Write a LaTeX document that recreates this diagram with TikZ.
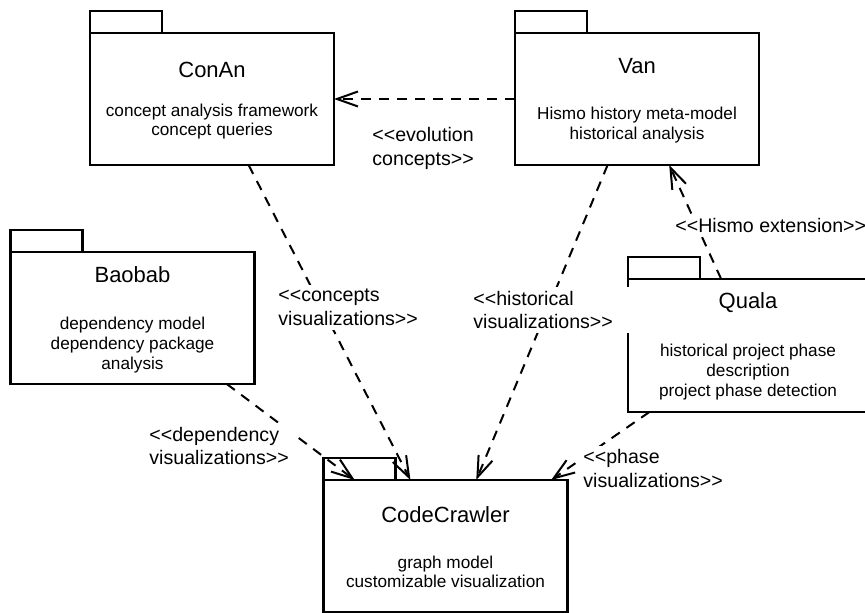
\documentclass[tikz,border=0pt]{standalone}
\usepackage{fontspec}
\setmainfont{Liberation Sans}
\usetikzlibrary{arrows.meta, positioning}

% stereotype brackets, kept apart so they do not merge into guillemets
\newcommand{\stopen}{\textless\kern0pt\textless}
\newcommand{\stclose}{\textgreater\kern0pt\textgreater}

\begin{document}
\begin{tikzpicture}[x=0.5pt, y=-0.5pt,
    pkg/.style={draw, line width=1.2pt, minimum width=122pt, minimum height=66pt,
                inner sep=0pt, outer sep=0pt},
    pkgtab/.style={draw, line width=1.2pt},
    pkgtitle/.style={font=\fontsize{11}{13}\selectfont},
    pkgdesc/.style={font=\fontsize{8.6}{9.8}\selectfont, align=center},
    lbl/.style={font=\fontsize{9.8}{11.75}\selectfont, align=left, anchor=west,
                fill=white, inner sep=2pt},
    dep/.style={line width=1pt, dash pattern=on 5pt off 4pt,
                -{Straight Barb[length=10.5pt, width=7.5pt]}}]
    % canvas
    \useasboundingbox (0,0) rectangle (865,613);
    \clip (0,0) rectangle (865,613);

    % Package bodies
    \node[pkg] (conan) at (212,99) {};
    \node[pkg] (van) at (637,99) {};
    \node[pkg] (baobab) at (132.5,318) {};
    \node[pkg, minimum width=120pt, minimum height=66.5pt] (quala) at (748,345.5) {};
    \node[pkg] (crawler) at (445.5,546) {};

    % Package tabs
    \foreach \p in {conan, van, baobab, quala, crawler}
        \draw[pkgtab] (\p.north west) rectangle ++(72,-22);

    % Package names and contents
    \node[pkgtitle] (conan-t) at (212,70) {ConAn};
    \node[pkgdesc] (conan-d) at (212,121.5) {concept analysis framework\\concept queries};
    \node[pkgtitle] (van-t) at (637,66) {Van};
    \node[pkgdesc] (van-d) at (637,125) {Hismo history meta-model\\historical analysis};
    \node[pkgtitle] (baobab-t) at (132.5,275) {Baobab};
    \node[pkgdesc] (baobab-d) at (132.5,345) {dependency model\\dependency package\\analysis};
    \node[pkgtitle] (quala-t) at (748,303) {Quala};
    \node[pkgdesc] (quala-d) at (748,372) {historical project phase\\description\\project phase detection};
    \node[pkgtitle] (crawler-t) at (445.5,515) {CodeCrawler};
    \node[pkgdesc] (crawler-d) at (445.5,572) {graph model\\customizable visualization};

    % Dependencies
    \draw[dep] (van.west) -- (conan.east);
    \draw[dep] (conan.-61.4) -- (crawler.118.3);
    \draw[dep] (van.-114.4) -- (crawler.65.9);
    \draw[dep] (quala.112.8) -- (van.-64.8);
    \draw[dep] (quala.-146.4) -- (crawler.32.3);
    \draw[dep] (baobab.-35.5) -- (crawler.144.8);

    % Stereotype labels
    \node[lbl] (evo-l) at (368,148.5) {\stopen evolution\\concepts\stclose};
    \node[lbl] (con-l) at (274,307.5) {\stopen concepts\\visualizations\stclose};
    \node[lbl, text width=77pt] (his-l) at (469,310) {\stopen historical\\visualizations\stclose};
    \node[lbl] (ext-l) at (671,225) {\stopen Hismo extension\stclose};
    \node[lbl] (pha-l) at (579,468.5) {\stopen phase\\visualizations\stclose};
    \node[lbl] (dep-l) at (145,446) {\stopen dependency\\visualizations\stclose};
\end{tikzpicture}
\end{document}
